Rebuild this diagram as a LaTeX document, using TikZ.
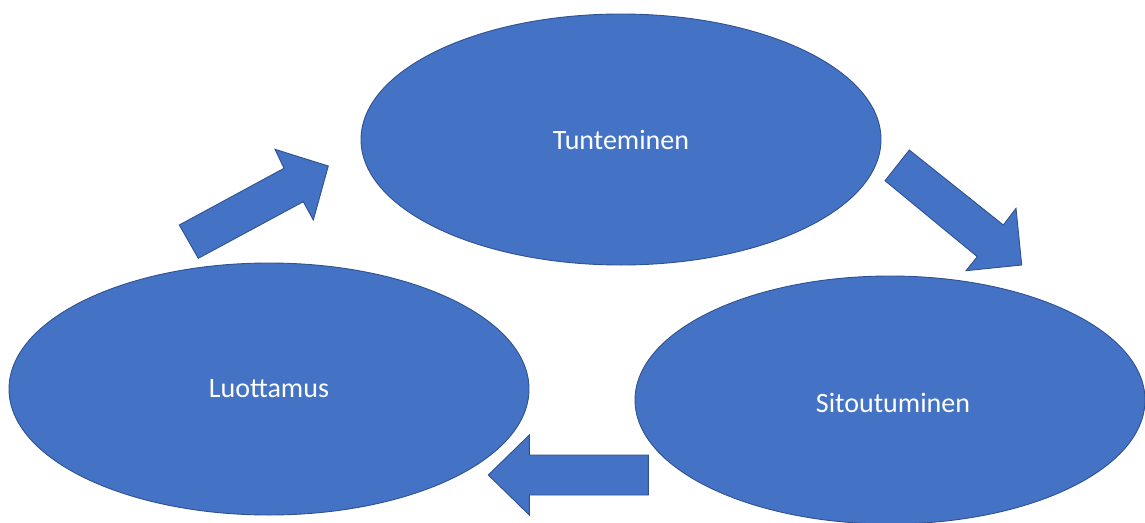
\documentclass[tikz,border=0pt]{standalone}
\usepackage{fontspec}
\setmainfont{Carlito}
\usetikzlibrary{shapes.geometric}
\definecolor{fillblue}{HTML}{4472C4}
\definecolor{edgeblue}{HTML}{2F528F}
\begin{document}
\begin{tikzpicture}[x=1pt,y=-1pt,
  blob/.style={ellipse,draw=edgeblue,fill=fillblue,line width=0.9pt,inner sep=0pt},
  label/.style={text=white,font=\fontsize{28}{32}\selectfont},
  blockarrow/.style={draw=edgeblue,fill=fillblue,line width=0.9pt,line join=miter}]
\useasboundingbox (0,0) rectangle (1145,522);
\node[blob,minimum width=520,minimum height=251] (tun) at (621,139.5) {};
\node[blob,minimum width=520,minimum height=252] (luo) at (269,389) {};
\node[blob,minimum width=510,minimum height=248] (sit) at (890,400) {};
\node[label] (tuntxt) at (621,140) {Tunteminen};
\node[label] (luotxt) at (269,389) {Luottamus};
\node[label] (sittxt) at (893,403) {Sitoutuminen};
% arrow Luottamus -> Tunteminen
\draw[blockarrow] (179.3,225) -- (284,168.3) -- (275,149.3) -- (328.3,166) -- (313.3,220) -- (303.3,201.7) -- (198.3,258.3) -- cycle;
% arrow Tunteminen -> Sitoutuminen
\draw[blockarrow] (909.3,150) -- (1003.3,225) -- (1016,208.3) -- (1021.7,265) -- (966,270.7) -- (977.3,256.7) -- (885,180.7) -- cycle;
% arrow Sitoutuminen -> Luottamus
\draw[blockarrow] (648.3,455) -- (529.3,455) -- (529.3,435) -- (488.3,475) -- (529.3,515) -- (529.3,495) -- (648.3,495) -- cycle;
\end{tikzpicture}
\end{document}
